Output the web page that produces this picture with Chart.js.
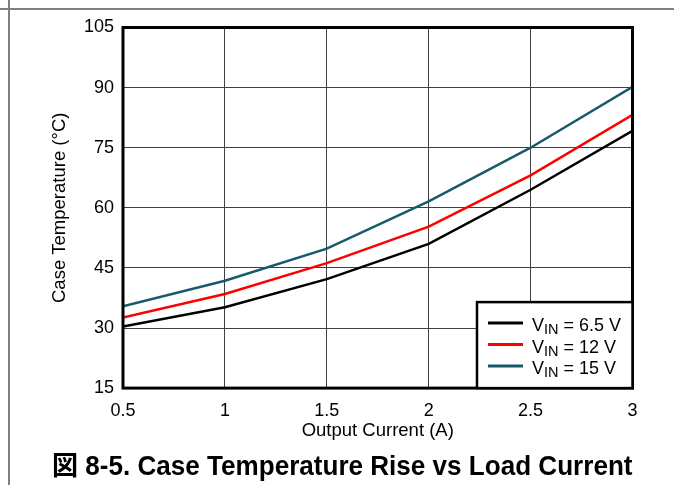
<!DOCTYPE html>
<html>
<head>
<meta charset="utf-8">
<script src="https://cdn.jsdelivr.net/npm/chart.js@4.4.1/dist/chart.umd.min.js"></script>
<style>
    html, body { margin: 0; padding: 0; background: #fff; overflow: hidden; }
    #wrap { position: relative; width: 674px; height: 485px; }
    .frameV { position: absolute; left: 8px; top: 0; width: 2px; height: 485px; background: #808080; }
    .frameH { position: absolute; left: 0; top: 8px; width: 674px; height: 2px; background: #808080; }
</style>
</head>
<body>
<div id="wrap">
    <canvas id="tempChart"></canvas>
    <div class="frameV"></div>
    <div class="frameH"></div>
</div>
<script>
// Dữ liệu
const currents = [0.5, 1, 1.5, 2, 2.5, 3];
const temp65 = [30.4, 35.2, 42.2, 51.0, 64.5, 79.2];
const temp12 = [32.6, 38.5, 46.2, 55.3, 68.1, 83.2];
const temp15 = [35.4, 41.8, 49.8, 61.6, 75.0, 90.2];
const vinLabels = ['6.5 V', '12 V', '15 V'];
const seriesColors = ['#000000', '#ff0000', '#175a6b'];
const xTickLabels = ['0.5', '1', '1.5', '2', '2.5', '3'];

const FONT = "'Liberation Sans', Arial, Helvetica, sans-serif";

function toPoints(ys) {
    return currents.map((x, i) => ({ x: x, y: ys[i] }));
}

// Khung dày quanh vùng vẽ và chú thích có chỉ số dưới
const framePlugin = {
    id: 'frameAndLegend',
    afterDraw(chart) {
        const { ctx, chartArea: a } = chart;
        ctx.save();
        ctx.strokeStyle = '#000';
        ctx.lineWidth = 3;
        ctx.strokeRect(a.left, a.top, a.right - a.left, a.bottom - a.top);

        const boxL = a.right - 155.5;
        const boxT = a.bottom - 86;
        ctx.fillStyle = '#fff';
        ctx.fillRect(boxL, boxT, a.right - boxL, a.bottom - boxT);
        ctx.lineWidth = 2.5;
        ctx.strokeRect(boxL, boxT, a.right - boxL, a.bottom - boxT);

        chart.data.datasets.forEach((ds, i) => {
            const ly = boxT + 21 + i * 21.5;
            ctx.strokeStyle = ds.borderColor;
            ctx.lineWidth = 3;
            ctx.beginPath();
            ctx.moveTo(boxL + 11, ly);
            ctx.lineTo(boxL + 46, ly);
            ctx.stroke();

            ctx.fillStyle = '#000';
            ctx.textBaseline = 'alphabetic';
            ctx.textAlign = 'left';
            let tx = boxL + 55;
            ctx.font = '18px ' + FONT;
            ctx.fillText('V', tx, ly + 7.9);
            tx += ctx.measureText('V').width;
            ctx.font = '14.5px ' + FONT;
            ctx.fillText('IN', tx, ly + 11.2);
            tx += ctx.measureText('IN').width;
            ctx.font = '18px ' + FONT;
            ctx.fillText(' = ' + vinLabels[i], tx, ly + 7.9);
        });
        ctx.restore();
    }
};

const ctx = document.getElementById('tempChart').getContext('2d');
const tempChart = new Chart(ctx, {
    type: 'line',
    data: {
        datasets: [
            { label: 'VIN = ' + vinLabels[0], data: toPoints(temp65), borderColor: seriesColors[0] },
            { label: 'VIN = ' + vinLabels[1], data: toPoints(temp12), borderColor: seriesColors[1] },
            { label: 'VIN = ' + vinLabels[2], data: toPoints(temp15), borderColor: seriesColors[2] }
        ]
    },
    options: {
        responsive: true,
        maintainAspectRatio: false,
        animation: false,
        elements: {
            line: { borderWidth: 2.5, tension: 0, fill: false },
            point: { radius: 0 }
        },
        layout: {
            padding: { left: 52, right: 41.5, top: 27.5, bottom: 0 }
        },
        plugins: {
            legend: { display: false },
            tooltip: { enabled: false },
            title: {
                display: true,
                position: 'bottom',
                text: '図 8-5. Case Temperature Rise vs Load Current',
                color: '#000',
                font: { family: FONT + ", 'Noto Sans CJK JP'", size: 27, weight: 'bold' },
                padding: { top: 9.5, bottom: 1 }
            }
        },
        scales: {
            x: {
                type: 'linear',
                min: 0.5,
                max: 3,
                afterFit: function (scale) { scale.height = 54; },
                ticks: {
                    stepSize: 0.5,
                    color: '#000',
                    padding: 12,
                    maxRotation: 0,
                    font: { family: FONT, size: 18 },
                    callback: function (value, index) {
                        return xTickLabels[index];
                    }
                },
                grid: { color: '#404040', lineWidth: 1, drawTicks: false },
                border: { display: false },
                title: {
                    display: true,
                    text: 'Output Current (A)',
                    color: '#000',
                    font: { family: FONT, size: 18.5 },
                    padding: { top: 0, bottom: 0 }
                }
            },
            y: {
                min: 15,
                max: 105,
                afterFit: function (scale) { scale.width = 71; },
                ticks: {
                    stepSize: 15,
                    color: '#000',
                    padding: 9,
                    font: { family: FONT, size: 18 }
                },
                grid: { color: '#404040', lineWidth: 1, drawTicks: false },
                border: { display: false },
                title: {
                    display: true,
                    text: 'Case Temperature (°C)',
                    color: '#000',
                    font: { family: FONT, size: 18.5 },
                    padding: { top: -3, bottom: 0 }
                }
            }
        }
    },
    plugins: [framePlugin]
});
</script>
</body>
</html>
